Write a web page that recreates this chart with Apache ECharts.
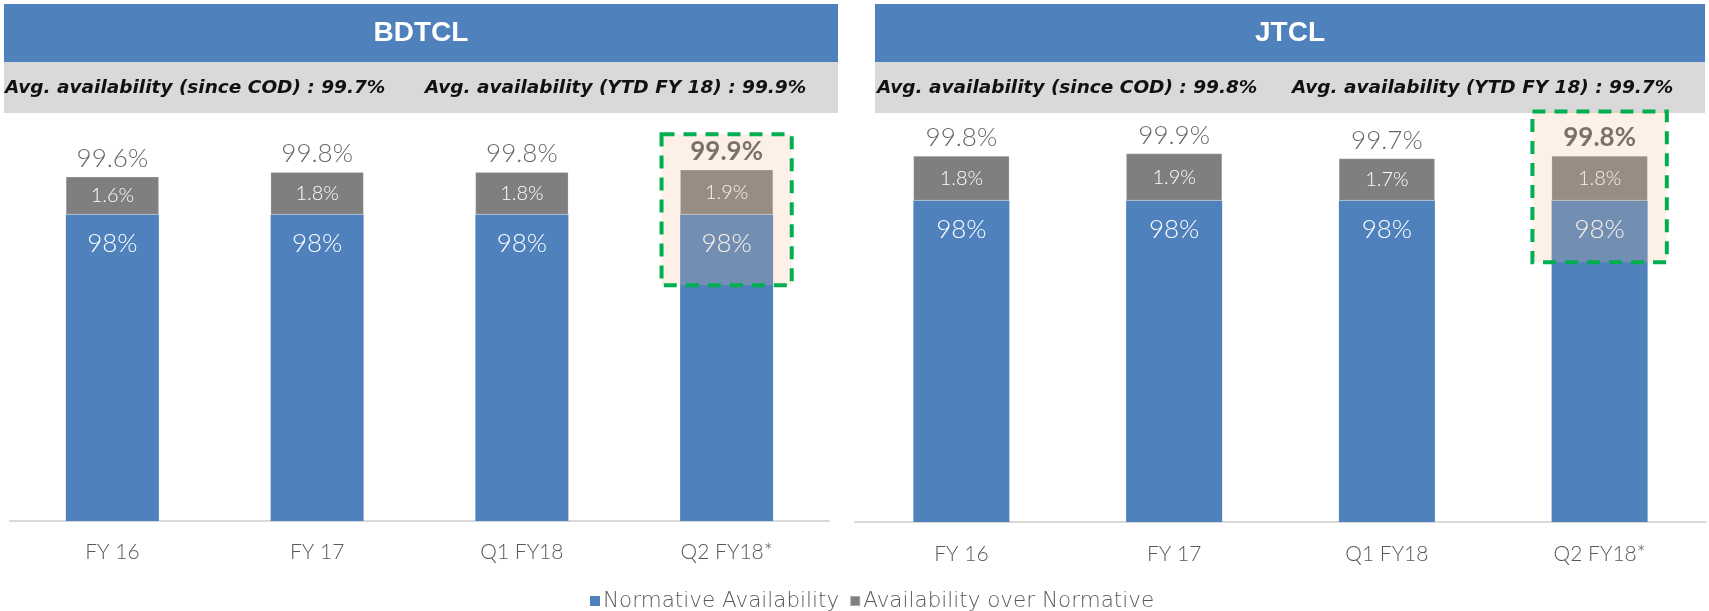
<!DOCTYPE html>
<html>
<head>
<meta charset="utf-8">
<script src="https://cdn.jsdelivr.net/npm/echarts@6/dist/echarts.min.js"></script>
<style>
html,body{margin:0;padding:0;background:#fff;}
#c{width:1709px;height:611px;}
</style>
</head>
<body>
<div id="c"></div>
<script>
// ---- data ----
var categories = ['FY 16', 'FY 17', 'Q1 FY18', 'Q2 FY18*'];
var bdtclNormative = [98, 98, 98, 98];
var bdtclOver = [1.6, 1.8, 1.8, 1.9];
var bdtclTotal = [99.6, 99.8, 99.8, 99.9];
var jtclNormative = [98, 98, 98, 98];
var jtclOver = [1.8, 1.9, 1.7, 1.8];
var jtclTotal = [99.8, 99.9, 99.7, 99.8];
var panelTitles = ['BDTCL', 'JTCL'];
var bdtclNotes = ['Avg. availability (since COD) : 99.7%', 'Avg. availability (YTD FY 18) : 99.9%'];
var jtclNotes = ['Avg. availability (since COD) : 99.8%', 'Avg. availability (YTD FY 18) : 99.7%'];
var legendNames = ['Normative Availability', 'Availability over Normative'];
var highlightCategory = 'Q2 FY18*';
var highlightRange = [[95, 101.4], [95.5, 101.6]];

var BLUE = '#4F81BD', GRAY = '#7F7F7F';
var FONT = 'Lato';
var NOTE_FONT = 'italic bold 18.5px "DejaVu Sans"';

var chart = echarts.init(document.getElementById('c'), null, {renderer: 'canvas'});

function totalsData(arr) {
  return arr.map(function (v, i) {
    if (categories[i] === highlightCategory) {
      return {value: v, label: {fontWeight: 'bold', color: '#333'}};
    }
    return v;
  });
}

function panelSeries(idx, normative, over, total, topDist) {
  return [
    {
      name: legendNames[0], type: 'bar', stack: 's' + idx,
      xAxisIndex: idx, yAxisIndex: idx,
      data: normative, barWidth: idx === 0 ? 93 : 96,
      itemStyle: {color: BLUE},
      label: {show: true, position: 'insideTop', distance: 16, formatter: '{c}%',
        color: '#fff', fontSize: 26, fontFamily: FONT, fontWeight: 300}
    },
    {
      name: legendNames[1], type: 'bar', stack: 's' + idx,
      xAxisIndex: idx, yAxisIndex: idx,
      data: over, barWidth: idx === 0 ? 93 : 96,
      itemStyle: {color: GRAY, borderColor: 'rgba(255,255,255,0.35)', borderWidth: 0.6},
      label: {show: true, position: 'inside', formatter: '{c}%',
        color: '#fff', fontSize: 20, fontFamily: FONT, fontWeight: 300}
    },
    {
      name: 'total' + idx, type: 'scatter',
      xAxisIndex: idx, yAxisIndex: idx,
      data: totalsData(total), symbolSize: 0, silent: true,
      label: {show: true, position: 'top', distance: topDist, formatter: '{c}%',
        color: '#404040', fontSize: 26, fontFamily: FONT, fontWeight: 300}
    }
  ];
}

var xAxisCommon = {
  type: 'category', data: categories,
  axisLine: {show: true, lineStyle: {color: '#D9D9D9', width: 2}},
  axisTick: {show: false},
  axisLabel: {color: '#595959', fontSize: 21, fontFamily: FONT, fontWeight: 300}
};

var option = {
  animation: false,
  backgroundColor: '#fff',
  grid: [
    {left: 10, width: 819, top: 132, bottom: 90},
    {left: 855, width: 851, top: 114, bottom: 89}
  ],
  xAxis: [
    Object.assign({gridIndex: 0}, xAxisCommon, {axisLabel: Object.assign({}, xAxisCommon.axisLabel, {margin: 21})}),
    Object.assign({gridIndex: 1}, xAxisCommon, {axisLabel: Object.assign({}, xAxisCommon.axisLabel, {margin: 22})})
  ],
  yAxis: [
    {type: 'value', gridIndex: 0, min: 85, max: 101.5, show: false, splitLine: {show: false}},
    {type: 'value', gridIndex: 1, min: 85, max: 101.5, show: false, splitLine: {show: false}}
  ],
  legend: {
    data: legendNames, left: 585, top: 585, icon: 'rect',
    itemWidth: 10, itemHeight: 10, itemGap: 10,
    textStyle: {color: '#595959', fontSize: 21.5, fontFamily: 'DejaVu Sans', fontWeight: 200, padding: [0, 0, 0, -2]}
  },
  series: [].concat(
    panelSeries(0, bdtclNormative, bdtclOver, bdtclTotal, 5),
    panelSeries(1, jtclNormative, jtclOver, jtclTotal, 5)
  ),
  graphic: [
    {type: 'rect', shape: {x: 4, y: 4, width: 834, height: 58}, style: {fill: BLUE}, z: -1},
    {type: 'rect', shape: {x: 4, y: 62, width: 834, height: 51}, style: {fill: '#D9D9D9'}, z: -1},
    {type: 'rect', shape: {x: 875, y: 4, width: 830, height: 58}, style: {fill: BLUE}, z: -1},
    {type: 'rect', shape: {x: 875, y: 62, width: 830, height: 51}, style: {fill: '#D9D9D9'}, z: -1},
    {type: 'text', x: 421, y: 33, style: {text: panelTitles[0], fill: '#fff', font: 'bold 28px "Liberation Sans"', textAlign: 'center', textVerticalAlign: 'middle'}},
    {type: 'text', x: 1290, y: 33, style: {text: panelTitles[1], fill: '#fff', font: 'bold 28px "Liberation Sans"', textAlign: 'center', textVerticalAlign: 'middle'}},
    {type: 'text', x: 5, y: 88, style: {text: bdtclNotes[0], fill: '#111', font: NOTE_FONT, textVerticalAlign: 'middle'}},
    {type: 'text', x: 425, y: 88, style: {text: bdtclNotes[1], fill: '#111', font: NOTE_FONT, textVerticalAlign: 'middle'}},
    {type: 'text', x: 877, y: 88, style: {text: jtclNotes[0], fill: '#111', font: NOTE_FONT, textVerticalAlign: 'middle'}},
    {type: 'text', x: 1292, y: 88, style: {text: jtclNotes[1], fill: '#111', font: NOTE_FONT, textVerticalAlign: 'middle'}}
  ]
};

chart.setOption(option);

// highlight boxes computed from the axes
var boxes = [];
[0, 1].forEach(function (g) {
  var cx = chart.convertToPixel({xAxisIndex: g}, highlightCategory);
  var y1 = chart.convertToPixel({yAxisIndex: g}, highlightRange[g][1]);
  var y0 = chart.convertToPixel({yAxisIndex: g}, highlightRange[g][0]);
  var bw = g === 0 ? 93 : 96;
  var w = bw * 1.4;
  boxes.push({
    type: 'rect', z: 100, silent: true,
    shape: {x: cx - w / 2, y: y1, width: w, height: y0 - y1},
    style: {fill: 'rgba(246,190,145,0.22)', stroke: '#00B050', lineWidth: 4, lineDash: [13, 9]}
  });
});
chart.setOption({graphic: option.graphic.concat(boxes)});
</script>
</body>
</html>
